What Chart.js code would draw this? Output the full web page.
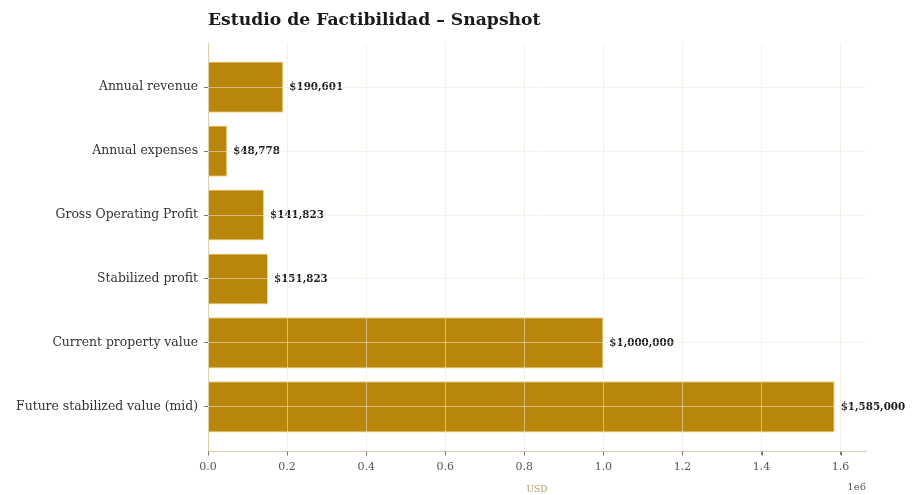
<!DOCTYPE html>
<html>
<head>
<meta charset="utf-8">
<script src="https://cdn.jsdelivr.net/npm/chart.js@4/dist/chart.umd.min.js"></script>
<style>
  html, body { margin: 0; padding: 0; background: #ffffff; }
  #wrap { width: 916px; height: 495px; }
</style>
</head>
<body>
<div id="wrap"><canvas id="c" width="916" height="495"></canvas></div>
<script>
// Feasibility snapshot figures (USD)
const categories = [
  'Annual revenue',
  'Annual expenses',
  'Gross Operating Profit',
  'Stabilized profit',
  'Current property value',
  'Future stabilized value (mid)'
];
const values = [190601, 48778, 141823, 151823, 1000000, 1585000];
const xTickValues = [0, 200000, 400000, 600000, 800000, 1000000, 1200000, 1400000, 1600000];
const titleText = 'Estudio de Factibilidad \u2013 Snapshot';
const xAxisTitle = 'USD';
const offsetText = '1e6';

const SERIF = '"DejaVu Serif", "Liberation Serif", serif';
const GOLD = '#B8860B';
const SPINE = '#ddd0a8';
const TICK = '#777777';

// value pairs for a horizontal bar chart on a numeric index axis
const points = values.map((v, i) => ({ x: v, y: i }));
const xMax = Math.max(...values) * 1.05;
const yPad = 0.4 + 5.8 * 0.05;

const fmtMoney = v => '$' + v.toLocaleString('en-US');

const barLabels = {
  id: 'barLabels',
  afterDatasetsDraw(chart) {
    const ctx = chart.ctx;
    const meta = chart.getDatasetMeta(0);
    ctx.save();
    ctx.font = 'bold 10.3px ' + SERIF;
    ctx.fillStyle = '#1a1a1a';
    ctx.textAlign = 'left';
    ctx.textBaseline = 'middle';
    meta.data.forEach((bar, i) => {
      ctx.fillText(fmtMoney(values[i]), bar.x + 6, bar.y);
    });
    ctx.restore();
  }
};

// bottom spine with its tick marks, title and offset text
const frameText = {
  id: 'frameText',
  afterDraw(chart) {
    const ctx = chart.ctx;
    const area = chart.chartArea;
    const xs = chart.scales.x;
    ctx.save();
    const yb = Math.round(area.bottom) + 0.5;
    ctx.lineWidth = 1;
    ctx.strokeStyle = SPINE;
    ctx.beginPath();
    ctx.moveTo(area.left, yb);
    ctx.lineTo(area.right, yb);
    ctx.stroke();
    ctx.strokeStyle = TICK;
    ctx.beginPath();
    xTickValues.forEach(v => {
      const px = Math.round(xs.getPixelForValue(v)) + 0.5;
      ctx.moveTo(px, yb);
      ctx.lineTo(px, yb + 4);
    });
    ctx.stroke();

    ctx.fillStyle = '#1a1a1a';
    ctx.font = 'bold 17.2px ' + SERIF;
    ctx.textAlign = 'left';
    ctx.textBaseline = 'alphabetic';
    ctx.fillText(titleText, area.left, 25);
    ctx.font = '10px ' + SERIF;
    ctx.fillStyle = '#555555';
    ctx.textAlign = 'right';
    ctx.fillText(offsetText, area.right, 490);
    ctx.restore();
  }
};

const gridStyle = {
  z: 1,
  offset: false,
  color: 'rgba(238,232,215,0.55)',
  lineWidth: 1,
  tickLength: 4,
  tickColor: TICK
};
const borderStyle = { display: true, z: 1, color: SPINE, width: 1 };

new Chart(document.getElementById('c'), {
  type: 'bar',
  data: {
    datasets: [{
      data: points,
      backgroundColor: GOLD,
      borderColor: 'rgba(236,200,100,0.8)',
      borderWidth: 1,
      barPercentage: 0.8,
      categoryPercentage: 1.0
    }]
  },
  options: {
    indexAxis: 'y',
    responsive: false,
    animation: false,
    layout: { padding: { top: 43, right: 50, bottom: 0, left: 0 } },
    plugins: {
      legend: { display: false },
      tooltip: { enabled: false }
    },
    scales: {
      x: {
        type: 'linear',
        min: 0,
        max: xMax,
        offset: false,
        afterFit(scale) { scale.height = 44; },
        afterBuildTicks(scale) {
          scale.ticks = xTickValues.map(v => ({ value: v }));
        },
        ticks: {
          padding: 6,
          color: '#555555',
          font: { family: SERIF, size: 11 },
          callback: v => (v / 1e6).toFixed(1)
        },
        grid: gridStyle,
        border: borderStyle,
        title: {
          display: true,
          text: xAxisTitle,
          color: '#b09a6a',
          font: { family: SERIF, size: 9 },
          padding: { top: 0, bottom: 0 }
        }
      },
      y: {
        type: 'linear',
        reverse: true,
        min: -yPad,
        max: categories.length - 1 + yPad,
        offset: false,
        afterFit(scale) { scale.width = 208; },
        afterBuildTicks(scale) {
          scale.ticks = categories.map((_, i) => ({ value: i }));
        },
        ticks: {
          padding: 6,
          color: '#333333',
          font: { family: SERIF, size: 12.4 },
          callback: v => categories[v]
        },
        grid: gridStyle,
        border: borderStyle
      }
    }
  },
  plugins: [barLabels, frameText]
});
</script>
</body>
</html>
